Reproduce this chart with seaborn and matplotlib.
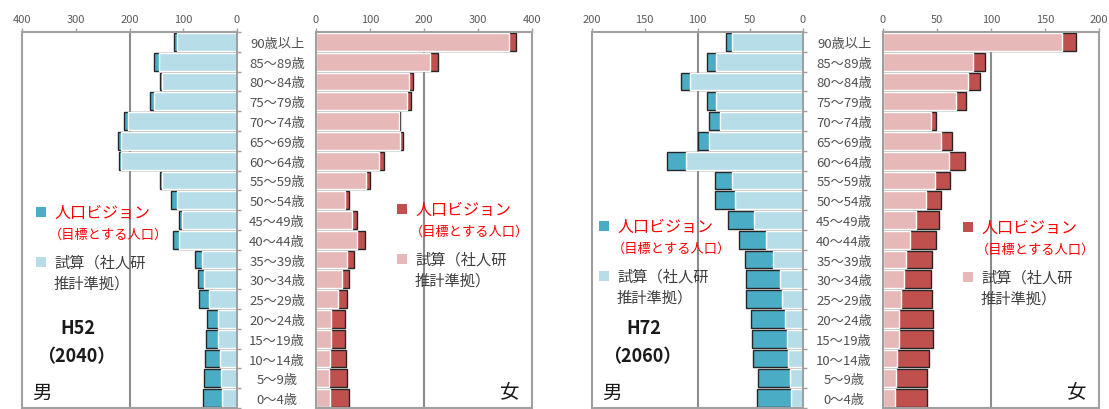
import numpy as np
import matplotlib
matplotlib.use("Agg")
import matplotlib.pyplot as plt
from matplotlib.patches import Rectangle
import seaborn as sns

sns.set_theme(style="white")
plt.rcParams["font.family"] = ["Noto Sans CJK JP", "DejaVu Sans"]

ages = ["90歳以上", "85～89歳", "80～84歳", "75～79歳", "70～74歳", "65～69歳",
        "60～64歳", "55～59歳", "50～54歳", "45～49歳", "40～44歳", "35～39歳",
        "30～34歳", "25～29歳", "20～24歳", "15～19歳", "10～14歳", "5～9歳", "0～4歳"]

# H52 (2040)
male_2040_vision = [118, 154, 144, 161, 211, 221, 220, 144, 122, 108, 120, 78, 72, 70, 56, 58, 60, 61, 64]
male_2040_proj = [112, 146, 139, 154, 203, 215, 215, 139, 112, 103, 108, 66, 61, 53, 35, 35, 32, 29, 27]
female_2040_vision = [371, 225, 180, 176, 156, 161, 126, 100, 61, 75, 91, 70, 61, 57, 54, 54, 55, 57, 62]
female_2040_proj = [357, 211, 172, 168, 153, 156, 117, 93, 54, 66, 75, 58, 48, 40, 27, 27, 26, 24, 25]

# H72 (2060)
male_2060_vision = [73, 91, 116, 91, 89, 100, 129, 83, 83, 71, 61, 55, 54, 54, 49, 48, 47, 43, 44]
male_2060_proj = [67, 82, 107, 82, 79, 89, 111, 67, 64, 46, 35, 28, 22, 20, 17, 15, 14, 12, 11]
female_2060_vision = [179, 94, 90, 77, 49, 64, 76, 62, 54, 52, 49, 45, 44, 45, 46, 46, 43, 41, 41]
female_2060_proj = [166, 83, 79, 68, 44, 54, 61, 48, 40, 31, 25, 21, 19, 17, 15, 15, 13, 12, 11]

ticks_2040 = [0, 100, 200, 300, 400]
ticks_2060 = [0, 50, 100, 150, 200]

legend_vision = ["人口ビジョン", "（目標とする人口）"]
legend_proj = ["試算（社人研", "推計準拠）"]
panel_titles = [("H52", "（2040）"), ("H72", "（2060）")]

TEAL, LIGHT_BLUE = "#4bacc6", "#b7dee8"
RED, PINK = "#c0504d", "#e6b9b8"
FRAME = "#a0a0a0"
GRID = "#8c8c8c"
TICKTXT = "#595959"

W, H = 1109, 410
fig = plt.figure(figsize=(W / 100, H / 100), dpi=100)


def px_axes(left, right, top=33, bottom=409):
    return fig.add_axes([left / W, 1 - bottom / H, (right - left) / W, (bottom - top) / H])


def draw_side(ax, vision, proj, dark, light, ticks, male):
    sns.barplot(x=vision, y=ages, orient="h", color=dark, saturation=1,
                edgecolor="#262626", linewidth=1.0, width=0.9, errorbar=None, ax=ax)
    sns.barplot(x=proj, y=ages, orient="h", color=light, saturation=1,
                edgecolor="white", linewidth=1.0, width=0.9, errorbar=None, ax=ax)
    xmax = ticks[-1]
    ax.axvline(ticks[2], color=GRID, lw=1.5, zorder=0)
    ax.set_xlim((xmax, 0) if male else (0, xmax))
    ax.set_ylim(len(ages) - 0.5, -0.5)
    ax.xaxis.tick_top()
    ax.set_xticks(ticks)
    ax.set_xticklabels([str(t) for t in ticks])
    ax.tick_params(axis="x", direction="out", length=3, width=1, color=FRAME,
                   labelsize=8, labelcolor=TICKTXT, pad=3, top=True, bottom=False)
    if male:
        ax.yaxis.tick_right()
        ax.set_yticks(np.arange(-0.5, len(ages), 1))
        ax.set_yticklabels([])
        ax.tick_params(axis="y", direction="out", length=3, width=1, color=FRAME,
                       right=True, left=False)
    else:
        ax.set_yticks(range(len(ages)))
        ax.set_yticklabels(ages, ha="center")
        ax.tick_params(axis="y", length=0, pad=28, labelsize=9.5, labelcolor="#505050")
    ax.set_xlabel("")
    ax.set_ylabel("")
    for s in ax.spines.values():
        s.set_visible(True)
        s.set_color(FRAME)
        s.set_linewidth(1.5)


def fig_text(x, y, s, **kw):
    fig.text(x / W, 1 - y / H, s, va="center", **kw)


def legend_block(mx, y1, dark, light):
    # mx: square centre x; y1: first-line centre y (pixels)
    for cy, col in ((y1, dark), (y1 + 50, light)):
        fig.patches.append(Rectangle(((mx - 5) / W, 1 - (cy + 5) / H), 10 / W, 10 / H,
                                     transform=fig.transFigure, facecolor=col, edgecolor="none"))
    tx = mx + 13
    fig_text(tx, y1, legend_vision[0], color="#ff0000", fontsize=11.5, ha="left")
    fig_text(tx - 5, y1 + 22, legend_vision[1], color="#ff0000", fontsize=9.5, ha="left")
    fig_text(tx, y1 + 50, legend_proj[0], color="#404040", fontsize=11, ha="left")
    fig_text(tx, y1 + 71, legend_proj[1], color="#404040", fontsize=11, ha="left")


ax1 = px_axes(22, 237)
ax2 = px_axes(316, 532)
ax3 = px_axes(592, 803)
ax4 = px_axes(883, 1099)

draw_side(ax1, male_2040_vision, male_2040_proj, TEAL, LIGHT_BLUE, ticks_2040, True)
draw_side(ax2, female_2040_vision, female_2040_proj, RED, PINK, ticks_2040, False)
draw_side(ax3, male_2060_vision, male_2060_proj, TEAL, LIGHT_BLUE, ticks_2060, True)
draw_side(ax4, female_2060_vision, female_2060_proj, RED, PINK, ticks_2060, False)

legend_block(41, 213, TEAL, LIGHT_BLUE)
legend_block(402, 210, RED, PINK)
legend_block(604, 227, TEAL, LIGHT_BLUE)
legend_block(968, 228, RED, PINK)

for (title, year), cx in zip(panel_titles, (78, 644)):
    fig_text(cx, 328, title, fontsize=13, fontweight="bold", ha="center", color="#1a1a1a")
    fig_text(cx - 2, 357, year, fontsize=13, fontweight="bold", ha="center", color="#1a1a1a")

for x in (42, 612):
    fig_text(x, 393, "男", fontsize=14, ha="center", color="#1a1a1a")
for x in (510, 1077):
    fig_text(x, 392, "女", fontsize=14, ha="center", color="#1a1a1a")

fig.savefig("out.png", dpi=100, facecolor="white")
